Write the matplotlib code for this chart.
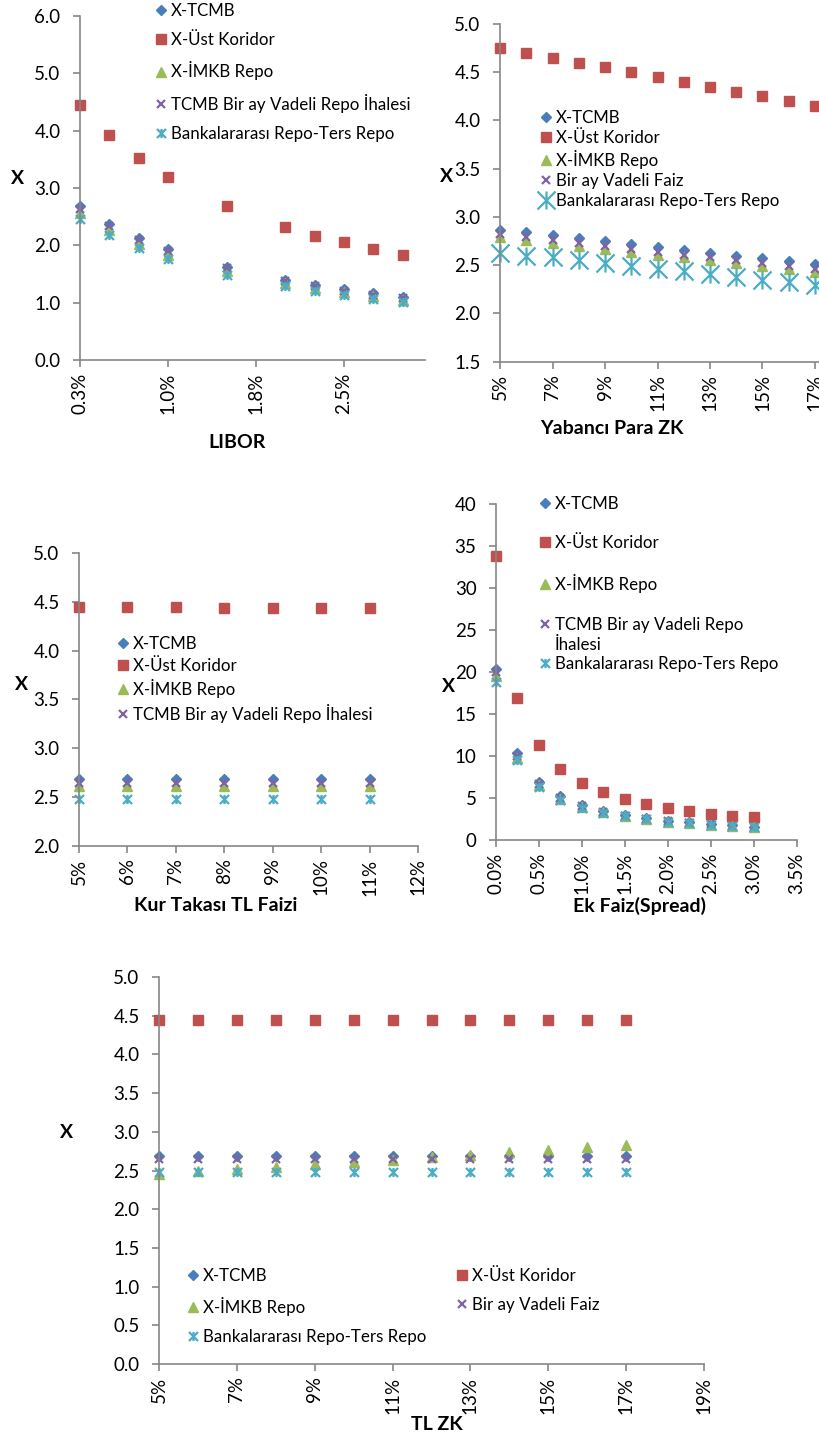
import matplotlib
matplotlib.use('Agg')
import matplotlib.pyplot as plt
from matplotlib.path import Path

# ---------------- data ----------------
labels_5 = ['X-TCMB', 'X-Üst Koridor', 'X-İMKB Repo', 'TCMB Bir ay Vadeli Repo İhalesi', 'Bankalararası Repo-Ters Repo']
labels_5b = ['X-TCMB', 'X-Üst Koridor', 'X-İMKB Repo', 'Bir ay Vadeli Faiz', 'Bankalararası Repo-Ters Repo']

# Panel 1: LIBOR
libor_x = [0.25, 0.5, 0.75, 1.0, 1.5, 2.0, 2.25, 2.5, 2.75, 3.0]
libor_tcmb = [2.69, 2.38, 2.13, 1.93, 1.62, 1.40, 1.31, 1.24, 1.16, 1.10]
libor_ust = [4.45, 3.93, 3.52, 3.20, 2.69, 2.32, 2.17, 2.05, 1.93, 1.83]
libor_imkb = [2.57, 2.27, 2.03, 1.84, 1.55, 1.34, 1.25, 1.18, 1.11, 1.05]
libor_repo = [2.63, 2.33, 2.09, 1.90, 1.60, 1.38, 1.29, 1.21, 1.14, 1.08]
libor_bank = [2.46, 2.18, 1.95, 1.77, 1.49, 1.29, 1.20, 1.13, 1.07, 1.01]
libor_xticks = [0.25, 1.0, 1.75, 2.5]
libor_xticklabels = ['0.3%', '1.0%', '1.8%', '2.5%']
libor_yticks = [0, 1, 2, 3, 4, 5, 6]
libor_yticklabels = ['0.0', '1.0', '2.0', '3.0', '4.0', '5.0', '6.0']

# Panel 2: Yabanci Para ZK
yp_x = [5, 6, 7, 8, 9, 10, 11, 12, 13, 14, 15, 16, 17]
yp_tcmb = [2.87, 2.84, 2.81, 2.78, 2.75, 2.72, 2.69, 2.66, 2.63, 2.60, 2.57, 2.54, 2.51]
yp_ust = [4.75, 4.70, 4.65, 4.60, 4.55, 4.50, 4.45, 4.40, 4.35, 4.30, 4.25, 4.20, 4.15]
yp_imkb = [2.79, 2.76, 2.73, 2.70, 2.67, 2.64, 2.61, 2.58, 2.55, 2.52, 2.49, 2.46, 2.43]
yp_faiz = [2.82, 2.79, 2.76, 2.73, 2.70, 2.67, 2.64, 2.61, 2.58, 2.55, 2.52, 2.49, 2.46]
yp_bank = [2.63, 2.60, 2.58, 2.55, 2.52, 2.49, 2.46, 2.44, 2.41, 2.38, 2.35, 2.33, 2.30]
yp_xticks = [5, 7, 9, 11, 13, 15, 17]
yp_xticklabels = ['5%', '7%', '9%', '11%', '13%', '15%', '17%']
yp_yticks = [1.5, 2.0, 2.5, 3.0, 3.5, 4.0, 4.5, 5.0]
yp_yticklabels = ['1.5', '2.0', '2.5', '3.0', '3.5', '4.0', '4.5', '5.0']

# Panel 3: Kur Takasi TL Faizi
kur_x = [5, 6, 7, 8, 9, 10, 11]
kur_tcmb = [2.69, 2.69, 2.69, 2.69, 2.69, 2.69, 2.69]
kur_ust = [4.45, 4.45, 4.45, 4.44, 4.44, 4.44, 4.44]
kur_imkb = [2.61, 2.61, 2.61, 2.61, 2.61, 2.61, 2.61]
kur_repo = [2.65, 2.65, 2.65, 2.65, 2.65, 2.65, 2.65]
kur_bank = [2.48, 2.48, 2.48, 2.48, 2.48, 2.48, 2.48]
kur_xticks = [5, 6, 7, 8, 9, 10, 11, 12]
kur_xticklabels = ['5%', '6%', '7%', '8%', '9%', '10%', '11%', '12%']
kur_yticks = [2.0, 2.5, 3.0, 3.5, 4.0, 4.5, 5.0]
kur_yticklabels = ['2.0', '2.5', '3.0', '3.5', '4.0', '4.5', '5.0']

# Panel 4: Ek Faiz (Spread)
ek_x = [0.0, 0.25, 0.5, 0.75, 1.0, 1.25, 1.5, 1.75, 2.0, 2.25, 2.5, 2.75, 3.0]
ek_tcmb = [20.4, 10.3, 6.9, 5.2, 4.2, 3.5, 3.0, 2.6, 2.3, 2.1, 1.9, 1.75, 1.6]
ek_ust = [33.8, 16.9, 11.3, 8.5, 6.8, 5.7, 4.9, 4.3, 3.8, 3.4, 3.1, 2.9, 2.7]
ek_imkb = [19.5, 9.8, 6.5, 4.9, 3.9, 3.3, 2.85, 2.5, 2.2, 2.0, 1.8, 1.65, 1.5]
ek_repo = [20.0, 10.0, 6.7, 5.0, 4.0, 3.35, 2.9, 2.55, 2.25, 2.05, 1.85, 1.7, 1.55]
ek_bank = [18.8, 9.5, 6.3, 4.8, 3.8, 3.2, 2.8, 2.45, 2.2, 2.0, 1.8, 1.65, 1.5]
ek_xticks = [0.0, 0.5, 1.0, 1.5, 2.0, 2.5, 3.0, 3.5]
ek_xticklabels = ['0.0%', '0.5%', '1.0%', '1.5%', '2.0%', '2.5%', '3.0%', '3.5%']
ek_yticks = [0, 5, 10, 15, 20, 25, 30, 35, 40]
ek_yticklabels = ['0', '5', '10', '15', '20', '25', '30', '35', '40']

# Panel 5: TL ZK
tl_x = [5, 6, 7, 8, 9, 10, 11, 12, 13, 14, 15, 16, 17]
tl_tcmb = [2.69, 2.69, 2.69, 2.69, 2.69, 2.69, 2.69, 2.69, 2.69, 2.69, 2.69, 2.69, 2.69]
tl_ust = [4.45, 4.45, 4.45, 4.45, 4.45, 4.45, 4.45, 4.45, 4.45, 4.45, 4.45, 4.45, 4.45]
tl_imkb = [2.46, 2.49, 2.52, 2.55, 2.58, 2.61, 2.64, 2.67, 2.70, 2.74, 2.77, 2.80, 2.83]
tl_faiz = [2.65, 2.65, 2.65, 2.65, 2.65, 2.65, 2.65, 2.65, 2.65, 2.65, 2.65, 2.65, 2.65]
tl_bank = [2.48, 2.48, 2.48, 2.48, 2.48, 2.48, 2.48, 2.48, 2.48, 2.48, 2.48, 2.48, 2.48]
tl_xticks = [5, 7, 9, 11, 13, 15, 17, 19]
tl_xticklabels = ['5%', '7%', '9%', '11%', '13%', '15%', '17%', '19%']
tl_yticks = [0, 0.5, 1.0, 1.5, 2.0, 2.5, 3.0, 3.5, 4.0, 4.5, 5.0]
tl_yticklabels = ['0.0', '0.5', '1.0', '1.5', '2.0', '2.5', '3.0', '3.5', '4.0', '4.5', '5.0']

# ---------------- style ----------------
plt.rcParams['font.family'] = ['Lato', 'DejaVu Sans']
BLUE = '#4a7ebb'; RED = '#c0504d'; GREEN = '#9bbb59'; PURPLE = '#8064a2'; CYAN = '#4bacc6'
GRAY = '#868686'
STAR = Path([(-.5, -.5), (.5, .5), (-.5, .5), (.5, -.5), (0, -.5), (0, .5)],
            [Path.MOVETO, Path.LINETO] * 3)
LEGFS = 12.2
TICKFS = 13.5

W, H = 820, 1437
fig = plt.figure(figsize=(W / 100, H / 100), dpi=100)


def mkax(l, r, t, b):
    ax = fig.add_axes([l / W, 1 - b / H, (r - l) / W, (b - t) / H])
    for s in ['top', 'right']:
        ax.spines[s].set_visible(False)
    for s in ['left', 'bottom']:
        ax.spines[s].set_color(GRAY)
        ax.spines[s].set_linewidth(1.2)
    ax.tick_params(direction='out', length=5, width=1.2, color=GRAY, labelsize=TICKFS)
    ax.tick_params(axis='y', pad=9)
    ax.tick_params(axis='x', labelrotation=90, pad=4)
    ax.set_facecolor('none')
    return ax


def series(ax, x, ys, star_ms=6.5):
    hs = []
    hs += ax.plot(x, ys[0], ls='none', marker='D', ms=5, color=BLUE, clip_on=False)
    hs += ax.plot(x, ys[1], ls='none', marker='s', ms=7, color=RED, clip_on=False)
    hs += ax.plot(x, ys[2], ls='none', marker='^', ms=6.5, color=GREEN, clip_on=False)
    hs += ax.plot(x, ys[3], ls='none', marker='x', ms=6, mew=1.6, color=PURPLE, clip_on=False)
    hs += ax.plot(x, ys[4], ls='none', marker=STAR, ms=star_ms, mew=1.6, mfc='none',
                  mec=CYAN, clip_on=False)
    return hs


def leg(ax, handles, labels, x, y, spacing):
    lg = ax.legend(handles, labels, loc='upper left', bbox_to_anchor=(x / W, 1 - y / H),
                   bbox_transform=fig.transFigure, frameon=False, fontsize=LEGFS,
                   handlelength=0.6, handletextpad=0.3, borderpad=0, borderaxespad=0,
                   labelspacing=spacing, handleheight=0.7, numpoints=1)
    return lg


def ticks(ax, xt, xtl, yt, ytl):
    ax.set_xticks(xt)
    ax.set_xticklabels(xtl)
    ax.set_yticks(yt)
    ax.set_yticklabels(ytl)


LBL = dict(fontsize=14, fontweight='bold', ha='center', va='center')

# Panel 1
ax1 = mkax(80, 425, 16, 360)
h = series(ax1, libor_x, [libor_tcmb, libor_ust, libor_imkb, libor_repo, libor_bank])
ax1.set_xlim(0.25, 0.25 + 345 / 88 * 0.75)
ax1.set_ylim(0, 6)
ticks(ax1, libor_xticks, libor_xticklabels, libor_yticks, libor_yticklabels)
leg(ax1, h, labels_5, 156, 3, 0.78)
fig.text(18 / W, 1 - 179 / H, 'X', **LBL)
fig.text(237 / W, 1 - 443 / H, 'LIBOR', **LBL)

# Panel 2
ax2 = mkax(500, 500 + 26.25 * 14, 24, 361.7)
h = series(ax2, yp_x, [yp_tcmb, yp_ust, yp_imkb, yp_faiz, yp_bank], star_ms=13)
ax2.set_xlim(5, 19)
ax2.set_ylim(1.5, 5.0)
ticks(ax2, yp_xticks, yp_xticklabels, yp_yticks, yp_yticklabels)
leg(ax2, h, labels_5b, 541, 110, 0.23)
fig.text(447 / W, 1 - 177 / H, 'X', **LBL)
fig.text(612 / W, 1 - 428 / H, 'Yabancı Para ZK', **LBL)

# Panel 3
ax3 = mkax(79, 418, 553, 846)
h = series(ax3, kur_x, [kur_tcmb, kur_ust, kur_imkb, kur_repo, kur_bank])
ax3.set_xlim(5, 12)
ax3.set_ylim(2, 5)
ticks(ax3, kur_xticks, kur_xticklabels, kur_yticks, kur_yticklabels)
leg(ax3, h[:4], labels_5[:4], 118, 636, 0.33)
fig.text(22 / W, 1 - 685 / H, 'X', **LBL)
fig.text(216 / W, 1 - 906 / H, 'Kur Takası TL Faizi', **LBL)

# Panel 4
ax4 = mkax(496, 797, 504, 840)
h = series(ax4, ek_x, [ek_tcmb, ek_ust, ek_imkb, ek_repo, ek_bank])
ax4.set_xlim(0, 3.5)
ax4.set_ylim(0, 40)
ticks(ax4, ek_xticks, ek_xticklabels, ek_yticks, ek_yticklabels)
leg(ax4, h, ['X-TCMB', 'X-Üst Koridor', 'X-İMKB Repo', 'TCMB Bir ay Vadeli Repo',
             'Bankalararası Repo-Ters Repo'], 540, 496, 1.37)
fig.text(555 / W, 1 - 645 / H, 'İhalesi', fontsize=LEGFS, ha='left', va='center')
fig.text(449 / W, 1 - 687 / H, 'X', **LBL)
fig.text(640 / W, 1 - 906 / H, 'Ek Faiz(Spread)', **LBL)

# Panel 5
ax5 = mkax(159, 704, 977, 1364)
h = series(ax5, tl_x, [tl_tcmb, tl_ust, tl_imkb, tl_faiz, tl_bank])
ax5.set_xlim(5, 19)
ax5.set_ylim(0, 5)
ticks(ax5, tl_xticks, tl_xticklabels, tl_yticks, tl_yticklabels)
lg1 = leg(ax5, [h[0], h[2], h[4]], [labels_5b[0], labels_5b[2], labels_5b[4]], 188, 1268, 0.76)
ax5.add_artist(lg1)
leg(ax5, [h[1], h[3]], [labels_5b[1], labels_5b[3]], 457, 1268, 0.76)
fig.text(67 / W, 1 - 1133 / H, 'X', **LBL)
fig.text(437 / W, 1 - 1424 / H, 'TL ZK', **LBL)

fig.savefig('out.png', dpi=100)
